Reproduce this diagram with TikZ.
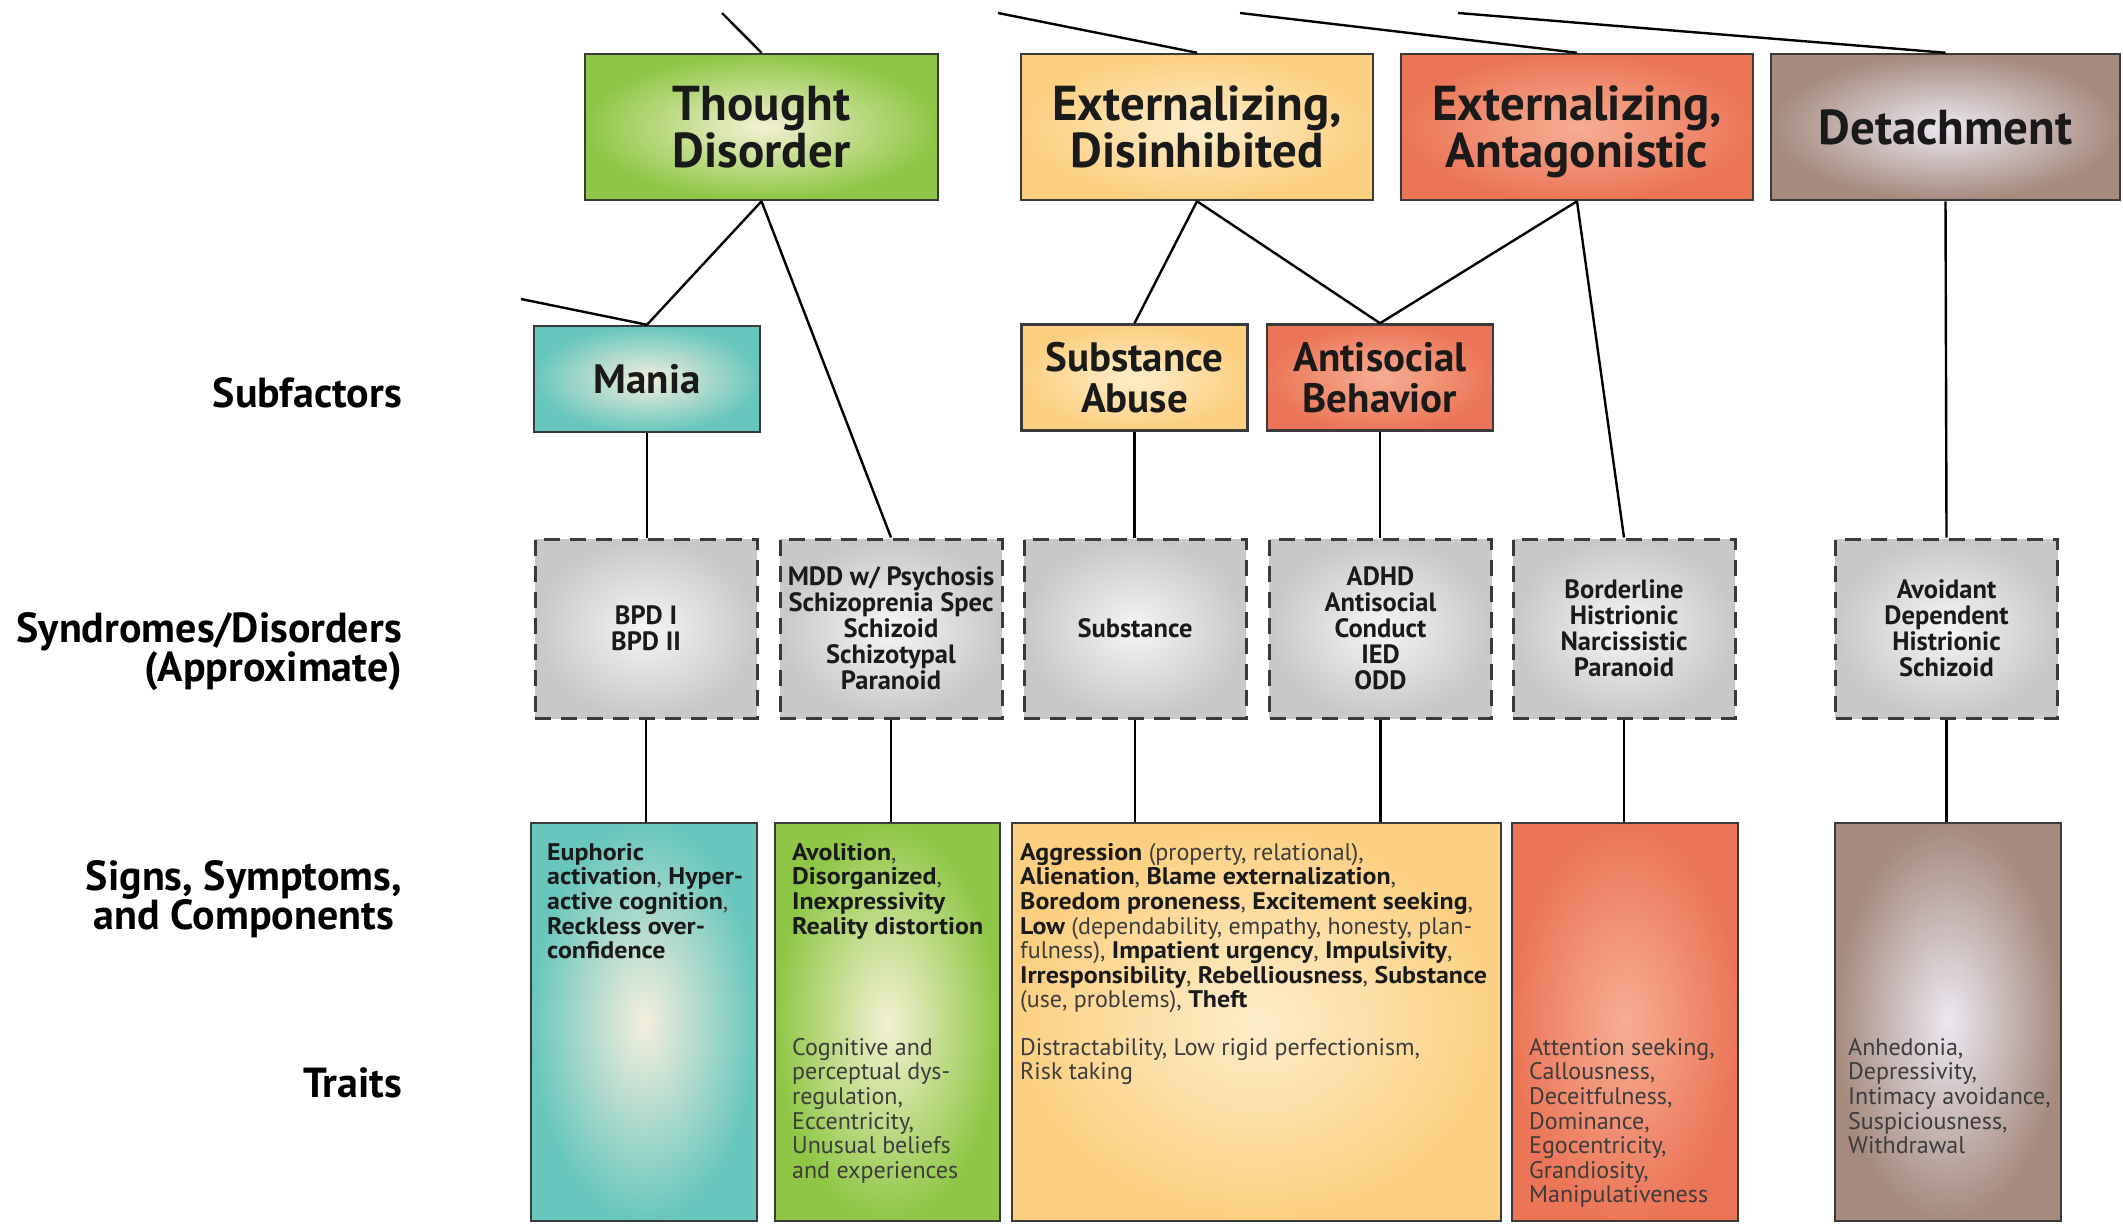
\documentclass[tikz,border=0pt]{standalone}
\usepackage{fontspec}
\setmainfont{PT Sans}
\newfontfamily\boxfont{PT Sans}[BoldFeatures={FakeStretch=1.08}]
\definecolor{tealout}{HTML}{69C6BE}
\definecolor{tealin}{HTML}{F4EFDC}
\definecolor{greenout}{HTML}{8DC745}
\definecolor{greenin}{HTML}{F4F1D2}
\definecolor{orangeout}{HTML}{FCCF80}
\definecolor{orangein}{HTML}{FEEDCA}
\definecolor{redout}{HTML}{EC7557}
\definecolor{redin}{HTML}{F6AE93}
\definecolor{brownout}{HTML}{A68A7D}
\definecolor{brownin}{HTML}{ECE8F1}
\definecolor{grayout}{HTML}{C8C8C8}
\definecolor{grayin}{HTML}{F5F5F5}
\definecolor{rim}{HTML}{3A3A3A}
\definecolor{ink}{HTML}{1A1A1A}
\definecolor{softink}{HTML}{3C3C3C}
\newcommand{\bsign}[1]{\textbf{\color{ink}#1}}

\begin{document}
\begin{tikzpicture}[x=1pt,y=-1pt,
  factor/.style={draw=rim,line width=2.5pt,minimum width=352pt,minimum height=146pt,
    align=center,text=ink,text depth=0pt,font=\fontsize{49}{47}\selectfont\bfseries},
  subfactor/.style={draw=rim,line width=2.5pt,minimum width=226pt,minimum height=106pt,
    align=center,text=ink,font=\fontsize{41}{41}\selectfont\bfseries},
  syndrome/.style={draw=rim,line width=3pt,dash pattern=on 16pt off 10pt,
    minimum width=222pt,minimum height=179pt,inner color=grayin,outer color=grayout,
    align=center,text=ink,font=\fontsize{26.5}{26}\selectfont\bfseries},
  trait/.style={draw=rim,line width=2.5pt,minimum width=226pt,minimum height=398pt},
  signs/.style={anchor=north west,align=left,inner sep=0pt,text=softink,
    font=\boxfont\fontsize{24}{24.6}\selectfont},
  level/.style={anchor=east,align=right,inner sep=0pt,text=black,font=\fontsize{42}{39}\selectfont\bfseries},
  link/.style={draw=black,line width=2.4pt}]

\useasboundingbox (0,0) rectangle (2123,1224);

\node[level] (lsub) at (402,393) {Subfactors};
\node[level] (lsyn) at (402,652) {Syndromes/Disorders\\(Approximate)};
\node[level,align=center] (lsig) at (402,899) {Signs, Symptoms,\\and Components};
\node[level] (ltra) at (402,1083) {Traits};

\node[factor,inner color=greenin,outer color=greenout,minimum width=353pt] (td) at (761.5,127) {Thought\\Disorder};
\node[factor,inner color=orangein,outer color=orangeout] (ed) at (1197,127) {Externalizing,\\Disinhibited};
\node[factor,inner color=redin,outer color=redout] (ea) at (1577,127) {Externalizing,\\Antagonistic};
\node[factor,inner color=brownin,outer color=brownout,minimum width=349pt] (dt) at (1945.5,127) {Detachment};

\node[subfactor,inner color=tealin,outer color=tealout] (ma) at (647,379) {Mania};
\node[subfactor,inner color=orangein,outer color=orangeout] (sa) at (1134.5,377.5) {Substance\\Abuse};
\node[subfactor,inner color=redin,outer color=redout] (ab) at (1380,377.5) {Antisocial\\Behavior};

\node[syndrome] (s1) at (646,628.5) {BPD I\\BPD II};
\node[syndrome] (s2) at (891,628.5) {MDD w/ Psychosis\\Schizoprenia Spec\\Schizoid\\Schizotypal\\Paranoid};
\node[syndrome] (s3) at (1135,628.5) {Substance};
\node[syndrome] (s4) at (1380.5,628.5) {ADHD\\Antisocial\\Conduct\\IED\\ODD};
\node[syndrome] (s5) at (1624,628.5) {Borderline\\Histrionic\\Narcissistic\\Paranoid};
\node[syndrome] (s6) at (1946.5,628.5) {Avoidant\\Dependent\\Histrionic\\Schizoid};

\node[trait,inner color=tealin,outer color=tealout] (b1) at (644,1022) {};
\node[trait,inner color=greenin,outer color=greenout,minimum width=225pt] (b2) at (887.5,1022) {};
\node[trait,inner color=orangein,outer color=orangeout,minimum width=489pt] (b3) at (1256.5,1022) {};
\node[trait,inner color=redin,outer color=redout] (b4) at (1625,1022) {};
\node[trait,inner color=brownin,outer color=brownout] (b5) at (1948,1022) {};

\node[signs] (t1) at (547,843) {\bsign{Euphoric}\\\bsign{activation}, \bsign{Hyper-}\\\bsign{active cognition},\\\bsign{Reckless over-}\\\bsign{confidence}};
\node[signs] (t2) at (792,843) {\bsign{Avolition},\\\bsign{Disorganized},\\\bsign{Inexpressivity}\\\bsign{Reality distortion}};
\node[signs] (u2) at (792,1038) {Cognitive and\\perceptual dys-\\regulation,\\Eccentricity,\\Unusual beliefs\\and experiences};
\node[signs] (t3) at (1020,843) {\bsign{Aggression} (property, relational),\\\bsign{Alienation}, \bsign{Blame externalization},\\\bsign{Boredom proneness}, \bsign{Excitement seeking},\\\bsign{Low} (dependability, empathy, honesty, plan-\\fulness), \bsign{Impatient urgency}, \bsign{Impulsivity},\\\bsign{Irresponsibility}, \bsign{Rebelliousness}, \bsign{Substance}\\(use, problems), \bsign{Theft}};
\node[signs] (u3) at (1020,1038) {Distractability, Low rigid perfectionism,\\Risk taking};
\node[signs] (u4) at (1529,1038) {Attention seeking,\\Callousness,\\Deceitfulness,\\Dominance,\\Egocentricity,\\Grandiosity,\\Manipulativeness};
\node[signs] (u5) at (1848,1038) {Anhedonia,\\Depressivity,\\Intimacy avoidance,\\Suspiciousness,\\Withdrawal};

\coordinate (up1) at (722,13);
\coordinate (up2) at (998,13);
\coordinate (up3) at (1240,13);
\coordinate (up4) at (1458,13);
\coordinate (lft) at (521,299);

\draw[link] (up1) -- (td.north);
\draw[link] (up2) -- (ed.north);
\draw[link] (up3) -- (ea.north);
\draw[link] (up4) -- (dt.north);
\draw[link] (lft) -- (ma.north);
\draw[link] (td.south) -- (ma.north);
\draw[link] (td.south) -- (s2.north);
\draw[link] (ed.south) -- (sa.north);
\draw[link] (ed.south) -- (ab.north);
\draw[link] (ea.south) -- (ab.north);
\draw[link] (ea.south) -- (s5.north);
\draw[link] (dt.south) -- (s6.north);
\draw[link] (ma.south) -- (ma.south |- s1.north);
\draw[link] (sa.south) -- (sa.south |- s3.north);
\draw[link] (ab.south) -- (ab.south |- s4.north);
\draw[link] (s1.south) -- (s1.south |- b1.north);
\draw[link] (s2.south) -- (s2.south |- b2.north);
\draw[link] (s3.south) -- (s3.south |- b3.north);
\draw[link] (s4.south) -- (s4.south |- b3.north);
\draw[link] (s5.south) -- (s5.south |- b4.north);
\draw[link] (s6.south) -- (s6.south |- b5.north);

\end{tikzpicture}
\end{document}
